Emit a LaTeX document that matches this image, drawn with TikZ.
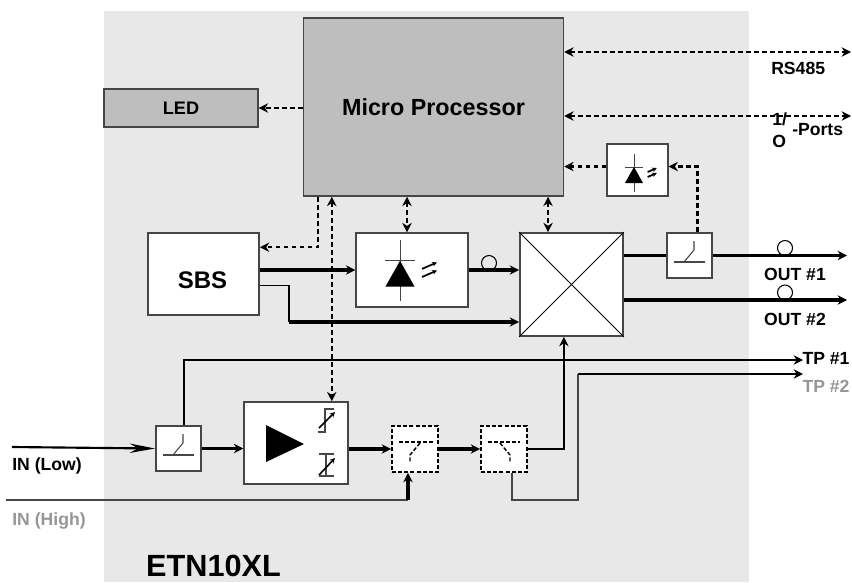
\documentclass[tikz,border=0pt]{standalone}
\usepackage{fontspec}
\setmainfont{Liberation Sans}
\usetikzlibrary{positioning}
\usetikzlibrary{arrows.meta}

\definecolor{panelgray}{RGB}{232,232,232}
\definecolor{cpugray}{RGB}{190,190,190}
\definecolor{labelgray}{RGB}{150,150,150}
\definecolor{edgegray}{RGB}{70,70,70}

\begin{document}
\begin{tikzpicture}[
x=0.75pt, y=-0.75pt,
>={Stealth[length=7pt,width=7pt]},
boxnode/.style={rectangle, draw=edgegray, fill=white, line width=1.1pt, inner sep=0pt},
graynode/.style={boxnode, fill=cpugray},
dashnode/.style={boxnode, draw=black, dash pattern=on 3pt off 1.6pt, line width=1.4pt},
lbl/.style={inner sep=0pt, font=\fontsize{13.2}{15}\selectfont\bfseries},
bigtxt/.style={inner sep=0pt, font=\fontsize{18}{20}\selectfont\bfseries},
ctrl/.style={dash pattern=on 3.6pt off 2.4pt, line width=1.8pt},
symdash/.style={dash pattern=on 3pt off 1.5pt, line width=1.1pt},
sym/.style={line width=0.8pt, edgegray},
fibre/.style={line width=2.4pt},
thinline/.style={line width=1.1pt},
pics/diodesym/.style={code={
  \draw[line width=0.7pt,edgegray] (0,-19) -- (0,19);
  \draw[line width=0.7pt,edgegray] (-9,-6) -- (9,-6);
  \fill[black] (0,-6) -- (-9,10) -- (9,10) -- cycle;
  \draw[-{Stealth[length=3.5pt,width=3.5pt]},line width=1.3pt] (13.6,-1) -- (22.8,-5);
  \draw[-{Stealth[length=3.5pt,width=3.5pt]},line width=1.3pt] (13.6,4) -- (22.8,0);
}},
pics/switchsym/.style={code={
  \draw[sym] (-16,6.5) -- (15,6.5);
  \draw[sym] (-5.5,6.5) -- (4.5,-5.5) -- (4.5,-14.5);
}},
]
\useasboundingbox (0,0) rectangle (852,582);
\fill[panelgray] (104,11) rectangle (749,582);

%Nodes
\node[graynode, minimum width=195pt, minimum height=133.5pt, font=\fontsize{17.5}{20}\selectfont\bfseries] (cpu) at (433.5,107) {Micro Processor};
\node[graynode, minimum width=115.5pt, minimum height=28.5pt, font=\fontsize{13.6}{16}\selectfont\bfseries] (led) at (181,108) {LED};
\node[boxnode, minimum width=45.5pt, minimum height=39pt] (optoB) at (637.5,170) {};
\node[boxnode, minimum width=83.5pt, minimum height=61.5pt] (sbs) at (203.5,274) {};
\node[boxnode, minimum width=84pt, minimum height=55.5pt] (optoA) at (412,270) {};
\node[boxnode, minimum width=77.5pt, minimum height=77.5pt] (xbar) at (571.5,284.5) {};
\node[boxnode, minimum width=34pt, minimum height=34pt] (swout) at (689.5,255.5) {};
\node[boxnode, minimum width=34pt, minimum height=34pt] (swin) at (178.5,448.5) {};
\node[boxnode, minimum width=78pt, minimum height=61.5pt] (amp) at (296,443) {};
\node[dashnode, minimum width=34.5pt, minimum height=34.5pt] (swa) at (415,449) {};
\node[dashnode, minimum width=34.5pt, minimum height=34.5pt] (swb) at (504,449) {};

%Free ends
\coordinate (rsport) at (851,52);
\coordinate (ioport) at (851,116);
\coordinate (outa) at (847,255.5);
\coordinate (outb) at (847,300);
\coordinate (tpa) at (803,360);
\coordinate (tpb) at (803,374);
\coordinate (inlow) at (12,447);
\coordinate (inhigh) at (6,500);
\coordinate (sbsbend) at (289,322);
\coordinate (highbend) at (408,500);
\coordinate (tpbend) at (578,374);

%Symbols
\pic at (634,173) {diodesym};
\pic[scale=1.62] at (400,270.5) {diodesym};
\pic at (swout) {switchsym};
\pic at (swin) {switchsym};
\draw[black, line width=0.6pt] (xbar.north west) -- (xbar.south east);
\draw[black, line width=0.6pt] (xbar.south west) -- (xbar.north east);
\fill[black] (266,425) -- (266,462) -- (304,444) -- cycle;
\draw[sym] (318,432) -- (325,432) -- (325,409) -- (334,409);
\draw[sym] (319,454) -- (334,454);
\draw[sym] (319,476) -- (334,476);
\draw[sym] (326,454) -- (326,476);
\draw[-{Stealth[length=4pt,width=4pt]},line width=1.2pt] (319,428) -- (335,412);
\draw[-{Stealth[length=4pt,width=4pt]},line width=1.2pt] (319,475) -- (335,458);
\draw[symdash] (399,442) -- (433,442);
\draw[symdash] (420,443) -- (410,455) -- (410,463);
\draw[symdash] (488,442) -- (520,442);
\draw[symdash] (500,443) -- (510,455) -- (510,463);
\draw[line width=0.8pt] (489,263) circle (7.5);
\draw[line width=0.8pt] (785,248) circle (7.5);
\draw[line width=0.8pt] (785,292.5) circle (7.5);

%Lines
\draw[ctrl, <->] (cpu.east |- rsport) -- (rsport);
\draw[ctrl, <->] (cpu.east |- ioport) -- (ioport);
\draw[ctrl, ->] ([yshift=2.6pt]optoB.west) -- ([yshift=2.6pt]optoB.west -| cpu.east);
\draw[ctrl, ->] ([xshift=6pt]swout.north) |- ([yshift=2.6pt]optoB.east);
\draw[ctrl, ->] (cpu.west |- led.east) -- (led.east);
\draw[ctrl, ->] ([xshift=11.25pt]cpu.south west) |- ([yshift=-11.25pt]sbs.north east);
\draw[ctrl, <->] ([xshift=21.75pt]cpu.south west) -- ([xshift=21.75pt]cpu.south west |- amp.north);
\draw[ctrl, <->] ([xshift=-3.75pt]optoA.north |- cpu.south) -- ([xshift=-3.75pt]optoA.north);
\draw[ctrl, <->] ([xshift=-17.6pt]xbar.north |- cpu.south) -- ([xshift=-17.6pt]xbar.north);
\draw[fibre, ->] (sbs.east |- optoA.west) -- (optoA.west);
\draw[thinline] ([yshift=-8.5pt]sbs.east) -| (sbsbend);
\draw[fibre, ->] (sbsbend) -- (sbsbend -| xbar.west);
\draw[fibre, ->] (optoA.east) -- (xbar.west |- optoA.east);
\draw[fibre] (xbar.east |- swout.west) -- (swout.west);
\draw[fibre, ->] (swout.east) -- (outa);
\draw[fibre, line width=2.8pt, ->] (xbar.east |- outb) -- (outb);
\draw[line width=1.6pt, -{Stealth[length=19pt,width=7pt]}] (inlow) -- (swin.west);
\draw[fibre, ->] (swin.east) -- (amp.west |- swin.east);
\draw[fibre, ->] (amp.east |- swa.west) -- (swa.west);
\draw[fibre, ->] (swa.east) -- (swb.west);
\draw[thinline, draw=edgegray] (inhigh) -- (highbend);
\draw[fibre, ->] (highbend) -- ([xshift=-5.25pt]swa.south);
\draw[thinline, ->] ([xshift=4pt]swin.north) |- (tpa);
\draw[thinline, ->] (swb.east) -| ([xshift=-45pt]xbar.south east);
\draw[thinline, draw=edgegray] ([xshift=6pt]swb.south) |- (highbend -| tpbend) -- (tpbend);
\draw[fibre, line width=1.5pt, ->] (tpbend) -- (tpb);

%Text
\node[bigtxt] (sbstxt) at (202.5,280) {SBS};
\node[lbl, anchor=west] (rstxt) at (771,68) {RS485};
\node[lbl, anchor=west] (iotxt) at (772,119) {1/};
\node[lbl, anchor=west] (iotxtb) at (772,141) {O};
\node[lbl, anchor=west] (iotxtc) at (792,130) {-Ports};
\node[lbl] (outatxt) at (795,274) {OUT \#1};
\node[lbl] (outbtxt) at (795,319) {OUT \#2};
\node[lbl] (tpatxt) at (826,358) {TP \#1};
\node[lbl, text=labelgray] (tpbtxt) at (826,386) {TP \#2};
\node[lbl] (lowtxt) at (47,466) {IN (Low)};
\node[lbl, text=labelgray] (hightxt) at (49,521) {IN (High)};
\node[inner sep=0pt, font=\fontsize{23}{26}\selectfont\bfseries] (nametxt) at (213.5,565.5) {ETN10XL};
\end{tikzpicture}
\end{document}
